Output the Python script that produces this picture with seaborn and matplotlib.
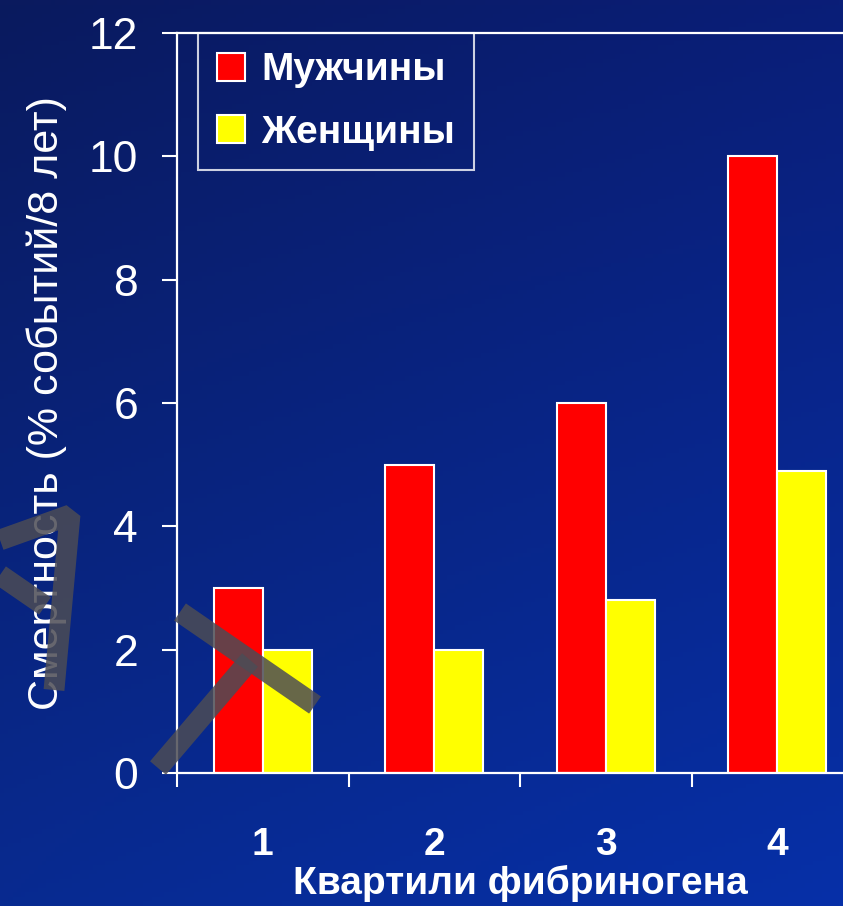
import numpy as np
import pandas as pd
import matplotlib
matplotlib.use("Agg")
import matplotlib.pyplot as plt
from matplotlib.lines import Line2D
from matplotlib.colors import to_rgb
from matplotlib import font_manager
import seaborn as sns

# Mortality by fibrinogen quartile
quartiles = ["1", "2", "3", "4"]
men = [3.0, 5.0, 6.0, 10.0]
women = [2.0, 2.0, 2.8, 4.9]
series_names = ["Мужчины", "Женщины"]
series_colors = ["#ff0000", "#ffff00"]
y_ticks = [0, 2, 4, 6, 8, 10, 12]
x_title = "Квартили фибриногена"
y_title = "Смертность (% событий/8 лет)"

sns.set_theme(style="white")
installed = {f.name for f in font_manager.fontManager.ttflist}
narrow = "Liberation Sans Narrow" if "Liberation Sans Narrow" in installed else "Liberation Sans"
plt.rcParams["font.family"] = ["Liberation Sans", "DejaVu Sans"]

df = pd.DataFrame({
    "quartile": quartiles * 2,
    "value": men + women,
    "sex": [series_names[0]] * len(men) + [series_names[1]] * len(women),
})

W, H = 843, 906
fig = plt.figure(figsize=(W / 100, H / 100), dpi=100)

# slide-style blue gradient background
bg = fig.add_axes([0, 0, 1, 1], zorder=-10)
tl, tr = np.array(to_rgb("#0a1a5e")), np.array(to_rgb("#0a1e78"))
bl, br = np.array(to_rgb("#082a90")), np.array(to_rgb("#0630a8"))
u = np.linspace(0, 1, 200)[None, :, None]
v = np.linspace(0, 1, 200)[:, None, None]
grad = (1 - v) * ((1 - u) * tl + u * tr) + v * ((1 - u) * bl + u * br)
bg.imshow(grad, aspect="auto", extent=[0, 1, 0, 1], origin="upper")
bg.set_axis_off()

ax_left, ax_bottom = 177 / W, 1 - 773 / H
ax_w, ax_h = 686 / W, 740 / H
ax = fig.add_axes([ax_left, ax_bottom, ax_w, ax_h])
ax.set_facecolor("none")

sns.barplot(data=df, x="quartile", y="value", hue="sex", order=quartiles,
            hue_order=series_names, palette=series_colors, width=0.57,
            edgecolor="white", linewidth=1.5, saturation=1, ax=ax)

ax.set_xlim(-0.5, len(quartiles) - 0.5)
ax.set_ylim(0, 12)
ax.set_yticks(y_ticks)
ax.set_yticklabels([str(t) for t in y_ticks], family=narrow, fontsize=32, color="white")
ax.set_xticks(range(len(quartiles)))
ax.set_xticklabels(quartiles, fontsize=28, fontweight="bold", color="white")
ax.set_xticks(np.arange(len(quartiles)) - 0.5, minor=True)
ax.tick_params(axis="x", which="major", length=0, pad=39)
ax.tick_params(axis="x", which="minor", direction="out", length=10, width=1.5,
               color="white", bottom=True)
ax.tick_params(axis="y", direction="out", length=11, width=1.5, color="white",
               pad=17, left=True)

for side in ("left", "bottom", "top"):
    ax.spines[side].set_visible(True)
    ax.spines[side].set_color("white")
    ax.spines[side].set_linewidth(1.6)
ax.spines["right"].set_visible(False)

ax.set_xlabel(x_title, fontsize=28, fontweight="bold", color="white", labelpad=1)
ax.set_ylabel(y_title, family=narrow, fontsize=31, color="white", labelpad=16)

leg = ax.legend(loc="upper left", bbox_to_anchor=(21 / 686, 1.0),
                prop={"weight": "bold", "size": 28}, frameon=True, fancybox=False,
                handlelength=0.72, handleheight=0.72, handletextpad=0.4,
                labelspacing=0.68, borderpad=0.5, borderaxespad=0)
leg.get_frame().set_facecolor("none")
leg.get_frame().set_edgecolor("white")
leg.get_frame().set_linewidth(1.5)
for t in leg.get_texts():
    t.set_color("white")

# grey brush strokes laid over the slide
strokes = [
    [(0, 540), (70, 515), (54, 690)],
    [(0, 575), (45, 606)],
    [(180, 612), (315, 705)],
    [(158, 768), (250, 660)],
]
for pts in strokes:
    xs = [p[0] / W for p in pts]
    ys = [1 - p[1] / H for p in pts]
    fig.add_artist(Line2D(xs, ys, transform=fig.transFigure, color="#4c4c55",
                          alpha=0.85, linewidth=15, solid_capstyle="butt",
                          solid_joinstyle="bevel", zorder=20))

fig.savefig("out.png", dpi=100)
